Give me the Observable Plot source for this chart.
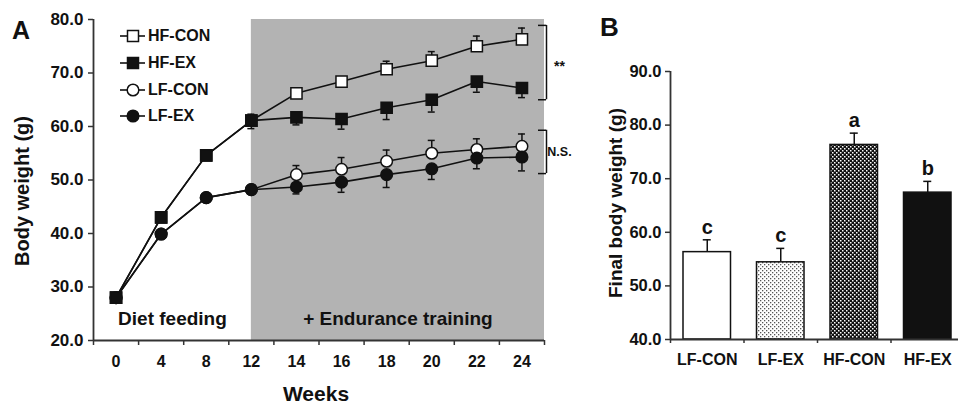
<!DOCTYPE html>
<html><head><meta charset="utf-8">
<script src="https://cdn.jsdelivr.net/npm/d3@7"></script>
<script src="https://cdn.jsdelivr.net/npm/@observablehq/plot@0.6"></script>
<style>
html,body{margin:0;padding:0;background:#fff;overflow:hidden}
#wrap{position:relative;width:958px;height:405px;overflow:hidden;font-family:"Liberation Sans",Arial,sans-serif;font-weight:bold;color:#111}
.abs{position:absolute;white-space:nowrap;line-height:1}
.leg{position:absolute;display:flex;align-items:center;height:18px;font-size:16px;line-height:1}
</style></head><body>
<svg width="0" height="0" style="position:absolute">
<defs>
<pattern id="dotsLight" width="4" height="4" patternUnits="userSpaceOnUse">
<rect width="4" height="4" fill="#fff"/><rect x="0" y="0" width="1.3" height="1.3" fill="#555"/><rect x="2" y="2" width="1.3" height="1.3" fill="#555"/>
</pattern>
<pattern id="dotsDark" width="4" height="4" patternUnits="userSpaceOnUse">
<rect width="4" height="4" fill="#111"/><rect x="0" y="0" width="1.5" height="1.5" fill="#fff"/><rect x="2" y="2" width="1.5" height="1.5" fill="#fff"/>
</pattern>
</defs></svg>
<div id="wrap"></div>
<script>
// ---------- Panel A data ----------
const weeks = [0, 4, 8, 12, 14, 16, 18, 20, 22, 24];
const trainingStartWeek = 12;
const seriesNames = ["HF-CON", "HF-EX", "LF-CON", "LF-EX"];
const hfCon    = [28.0, 43.0, 54.6, 61.1, 66.2, 68.4, 70.7, 72.3, 75.0, 76.3];
const hfConErr = [0.5, 0.8, 0.9, 1.2, 0.8, 0.8, 1.5, 1.7, 1.9, 2.1];
const hfEx     = [28.0, 43.0, 54.6, 61.1, 61.7, 61.4, 63.5, 65.0, 68.4, 67.2];
const hfExErr  = [0.5, 0.8, 0.9, 1.5, 1.4, 1.9, 2.2, 2.3, 2.0, 1.8];
const lfCon    = [28.0, 39.9, 46.7, 48.2, 51.0, 52.0, 53.5, 55.0, 55.7, 56.3];
const lfConErr = [0.5, 0.6, 0.6, 0.8, 1.7, 2.2, 2.1, 2.4, 2.0, 2.3];
const lfEx     = [28.0, 39.9, 46.7, 48.2, 48.7, 49.6, 51.0, 52.1, 54.1, 54.3];
const lfExErr  = [0.5, 0.6, 0.6, 0.8, 1.3, 1.9, 2.4, 2.0, 2.0, 2.6];
const yTicksA = [20, 30, 40, 50, 60, 70, 80];
const phaseLabels = ["Diet feeding", "+ Endurance training"];
const bracketLabels = ["**", "N.S."];
const bracketLow = [65.0, 51.2];
const bracketHigh = [78.9, 59.3];

// ---------- Panel B data ----------
const groupsB = ["LF-CON", "LF-EX", "HF-CON", "HF-EX"];
const finalWeight = [56.3, 54.4, 76.3, 67.4];
const finalErr = [2.3, 2.6, 2.2, 2.1];
const letters = ["c", "c", "a", "b"];
const yTicksB = [40, 50, 60, 70, 80, 90];

// ---------- styles ----------
const INK = "#111";
const AXIS = "#333";
const FONT = '"Liberation Sans", Arial, sans-serif';
const markerStyle = {
  "HF-CON": {symbol: "square", fill: "white", r: 6.3},
  "HF-EX":  {symbol: "square", fill: INK, r: 6.3},
  "LF-CON": {symbol: "circle", fill: "white", r: 5.8},
  "LF-EX":  {symbol: "circle", fill: INK, r: 5.8}
};
const errDir = {"HF-CON": 1, "HF-EX": -1, "LF-CON": 1, "LF-EX": -1};
const drawOrder = ["LF-CON", "HF-CON", "LF-EX", "HF-EX"];
const barFills = ["white", "url(#dotsLight)", "url(#dotsDark)", INK];

const vals = {"HF-CON": hfCon, "HF-EX": hfEx, "LF-CON": lfCon, "LF-EX": lfEx};
const errs = {"HF-CON": hfConErr, "HF-EX": hfExErr, "LF-CON": lfConErr, "LF-EX": lfExErr};
const rowsA = seriesNames.flatMap(s => weeks.map((w, i) => ({s, i, w, v: vals[s][i], e: errs[s][i], dir: errDir[s]})));
const brackets = bracketLabels.map((label, k) => ({label, lo: bracketLow[k], hi: bracketHigh[k]}));

const xEndA = weeks.length - 0.5;
const iTrain = weeks.indexOf(trainingStartWeek);
const tip = d => d.v + d.dir * d.e;

const plotA = Plot.plot({
  width: 600, height: 405,
  marginLeft: 93, marginRight: 56, marginTop: 19, marginBottom: 65,
  x: {domain: [-0.5, xEndA], axis: null},
  y: {domain: [yTicksA[0], yTicksA[yTicksA.length - 1]], axis: null},
  style: {fontFamily: FONT, fontWeight: "bold", color: INK, background: "transparent", overflow: "visible"},
  marks: [
    Plot.rect([0], {x1: () => iTrain, x2: () => xEndA, fill: "#b3b3b3"}),
    Plot.ruleX([-0.5], {stroke: AXIS, strokeWidth: 1.8}),
    Plot.ruleY([yTicksA[0]], {stroke: AXIS, strokeWidth: 1.8}),
    Plot.axisY(yTicksA, {tickSize: 5, tickPadding: 5, tickFormat: d3.format(".1f"), fontSize: 17, label: null, stroke: AXIS, strokeWidth: 1.5}),
    Plot.axisX(d3.range(-0.5, weeks.length), {tickSize: 5, tickFormat: () => "", label: null, stroke: AXIS, strokeWidth: 1.5}),
    Plot.axisX(d3.range(weeks.length), {tickSize: 0, tickPadding: 15, tickFormat: i => String(weeks[i]), fontSize: 16, label: null}),
    Plot.text([phaseLabels[0]], {x: () => (-0.5 + iTrain) / 2, frameAnchor: "bottom", lineAnchor: "bottom", dy: -16, fontSize: 19, text: d => d}),
    Plot.text([phaseLabels[1]], {x: () => (iTrain + xEndA) / 2, frameAnchor: "bottom", lineAnchor: "bottom", dy: -16, fontSize: 19, text: d => d}),
    Plot.line(rowsA, {x: "i", y: "v", z: "s", stroke: INK, strokeWidth: 1.6}),
    Plot.ruleX(rowsA, {x: "i", y1: "v", y2: tip, stroke: INK, strokeWidth: 1.5}),
    Plot.ruleY(rowsA, {x1: "i", x2: "i", y: tip, insetLeft: -3.5, insetRight: -3.5, stroke: INK, strokeWidth: 1.5}),
    ...drawOrder.map(s => Plot.dot(rowsA.filter(d => d.s === s), {
      x: "i", y: "v", symbol: markerStyle[s].symbol, r: markerStyle[s].r,
      fill: markerStyle[s].fill, stroke: INK, strokeWidth: 1.5
    })),
    Plot.ruleX(brackets, {x: () => xEndA, y1: "lo", y2: "hi", dx: 2, stroke: INK, strokeWidth: 1.5}),
    Plot.ruleY(brackets, {y: "lo", x1: () => xEndA, x2: () => xEndA, dx: 2, insetLeft: -8, stroke: INK, strokeWidth: 1.5}),
    Plot.ruleY(brackets, {y: "hi", x1: () => xEndA, x2: () => xEndA, dx: 2, insetLeft: -8, stroke: INK, strokeWidth: 1.5}),
    Plot.text(brackets.filter(d => d.label === "**"), {x: () => xEndA, y: d => (d.lo + d.hi) / 2, text: "label", dx: 15, dy: 4, fontSize: 14}),
    Plot.text(brackets.filter(d => d.label !== "**"), {x: () => xEndA, y: d => (d.lo + d.hi) / 2, text: "label", dx: 15, fontSize: 12.5})
  ]
});

// ---------- Panel B ----------
const rowsB = groupsB.map((g, i) => ({g, i, v: finalWeight[i], e: finalErr[i], letter: letters[i]}));
const plotB = Plot.plot({
  width: 364, height: 405,
  marginLeft: 70, marginRight: 0, marginTop: 71, marginBottom: 66,
  x: {domain: [-0.5, groupsB.length - 0.5], axis: null},
  y: {domain: [yTicksB[0], yTicksB[yTicksB.length - 1]], axis: null},
  color: {domain: groupsB, range: barFills},
  style: {fontFamily: FONT, fontWeight: "bold", color: INK, background: "transparent", overflow: "visible"},
  marks: [
    Plot.ruleX(rowsB, {x: "i", y1: "v", y2: d => d.v + d.e, stroke: INK, strokeWidth: 1.5}),
    Plot.ruleY(rowsB, {x1: "i", x2: "i", y: d => d.v + d.e, insetLeft: -4, insetRight: -4, stroke: INK, strokeWidth: 1.5}),
    Plot.rect(rowsB, {x1: d => d.i - 0.5, x2: d => d.i + 0.5, y1: () => yTicksB[0], y2: "v", insetLeft: 13, insetRight: 13, fill: "g", stroke: INK, strokeWidth: 1.5}),
    Plot.text(rowsB, {x: "i", y: d => d.v + d.e, text: "letter", lineAnchor: "bottom", dy: -6, fontSize: 20}),
    Plot.ruleX([-0.5], {stroke: AXIS, strokeWidth: 1.8}),
    Plot.ruleY([yTicksB[0]], {stroke: AXIS, strokeWidth: 1.8}),
    Plot.axisY(yTicksB, {tickSize: 5, tickPadding: 4, tickFormat: d3.format(".1f"), fontSize: 16.5, label: null, stroke: AXIS, strokeWidth: 1.5}),
    Plot.axisX(d3.range(-0.5, groupsB.length), {tickSize: 4, tickFormat: () => "", label: null, stroke: AXIS, strokeWidth: 1.5}),
    Plot.axisX(d3.range(groupsB.length), {tickSize: 0, tickPadding: 14, tickFormat: i => groupsB[i], fontSize: 16, label: null})
  ]
});

const wrap = document.getElementById("wrap");
plotA.style.position = "absolute"; plotA.style.left = "0px"; plotA.style.top = "0px"; plotA.style.maxWidth = "none";
plotB.style.position = "absolute"; plotB.style.left = "600px"; plotB.style.top = "0px"; plotB.style.maxWidth = "none";
wrap.appendChild(plotA);
wrap.appendChild(plotB);

function addText(txt, css) {
  const d = document.createElement("div");
  d.className = "abs";
  d.textContent = txt;
  Object.assign(d.style, css);
  wrap.appendChild(d);
}
addText("A", {left: "12px", top: "18px", fontSize: "25px"});
addText("B", {left: "600px", top: "14px", fontSize: "26px"});
addText("Body weight (g)", {left: "22px", top: "191px", fontSize: "20px", transform: "translate(-50%,-50%) rotate(-90deg)"});
addText("Weeks", {left: "316px", top: "393px", fontSize: "21px", transform: "translate(-50%,-50%)"});
addText("Final body weight (g)", {left: "615px", top: "203px", fontSize: "19px", transform: "translate(-50%,-50%) rotate(-90deg)"});

// legend
const legendY = [36, 63, 90, 116];
seriesNames.forEach((s, k) => {
  const m = markerStyle[s];
  const row = document.createElement("div");
  row.className = "leg";
  row.style.left = "118px";
  row.style.top = (legendY[k] - 9) + "px";
  const shape = m.symbol === "square"
    ? `<rect x="${15 - 5.5}" y="${9 - 5.5}" width="11" height="11" fill="${m.fill}" stroke="${INK}" stroke-width="1.5"/>`
    : `<circle cx="15" cy="9" r="${m.r}" fill="${m.fill}" stroke="${INK}" stroke-width="1.5"/>`;
  row.innerHTML = `<svg width="30" height="18"><line x1="2" x2="27" y1="9" y2="9" stroke="${INK}" stroke-width="1.6"/>${shape}</svg><span>${s}</span>`;
  wrap.appendChild(row);
});
</script>
</body></html>
